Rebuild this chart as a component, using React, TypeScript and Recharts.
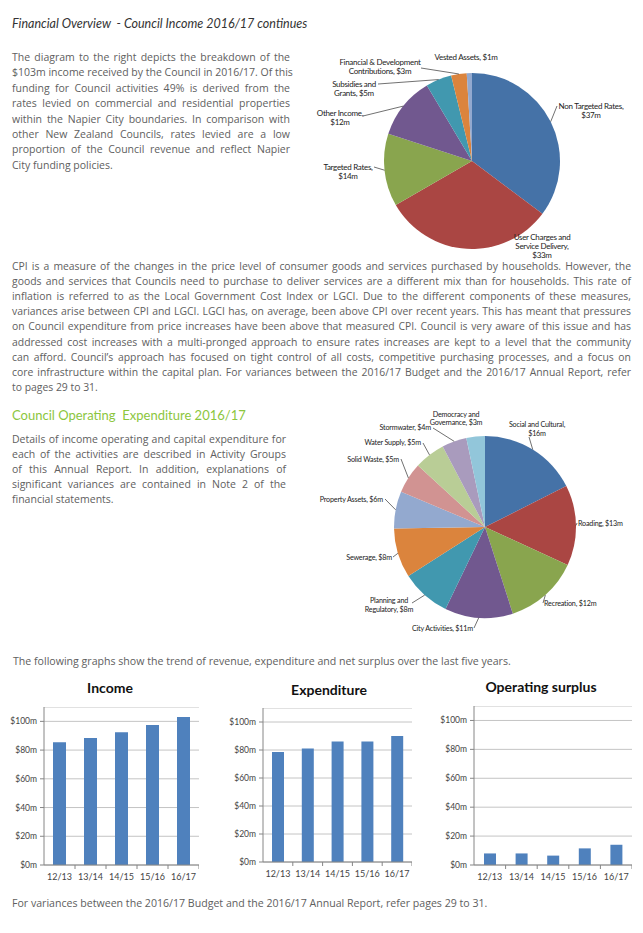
import React from "react";
import { Bar, BarChart, CartesianGrid, Cell, Pie, PieChart, XAxis, YAxis } from "recharts";

// Income 2016/17 pie
const incomeNames = [
  "Non Targeted Rates",
  "User Charges and Service Delivery",
  "Targeted Rates",
  "Other Income",
  "Subsidies and Grants",
  "Financial & Development Contributions",
  "Vested Assets",
];
const incomeValues = [37, 33, 14, 12, 5, 3, 1];
const incomeColors = ["#4572A7", "#AA4643", "#89A54E", "#71588F", "#4198AF", "#DB843D", "#93A9CF"];
const incomeLabels = [
  ["Non Targeted Rates,", "$37m"],
  ["User Charges and", "Service Delivery,", "$33m"],
  ["Targeted Rates,", "$14m"],
  ["Other Income,", "$12m"],
  ["Subsidies and", "Grants, $5m"],
  ["Financial & Development", "Contributions, $3m"],
  ["Vested Assets, $1m"],
];

// Operating expenditure 2016/17 pie
const expenseNames = [
  "Social and Cultural",
  "Roading",
  "Recreation",
  "City Activities",
  "Planning and Regulatory",
  "Sewerage",
  "Property Assets",
  "Solid Waste",
  "Water Supply",
  "Stormwater",
  "Democracy and Governance",
];
const expenseValues = [16, 13, 12, 11, 8, 8, 6, 5, 5, 4, 3];
const expenseColors = [
  "#4572A7", "#AA4643", "#89A54E", "#71588F", "#4198AF", "#DB843D",
  "#93A9CF", "#D19392", "#B9CD96", "#A99BBD", "#92C6DA",
];
const expenseLabels = [
  ["Social and Cultural,", "$16m"],
  ["Roading, $13m"],
  ["Recreation, $12m"],
  ["City Activities, $11m"],
  ["Planning and", "Regulatory, $8m"],
  ["Sewerage,  $8m"],
  ["Property Assets, $6m"],
  ["Solid Waste, $5m"],
  ["Water Supply, $5m"],
  ["Stormwater,  $4m"],
  ["Democracy and", "Governance, $3m"],
];

// five year trend
const years = ["12/13", "13/14", "14/15", "15/16", "16/17"];
const incomeTrend = [85.5, 88.5, 92.5, 97.5, 103];
const expenditureTrend = [78.5, 81, 86, 86, 90];
const surplusTrend = [8, 8, 6.5, 11.5, 14];
const moneyTicks = [0, 20, 40, 60, 80, 100];

const para1 = [
  "The diagram to the right depicts the breakdown of the",
  "$103m income received by the Council in 2016/17.  Of this",
  "funding for Council activities 49% is derived from the",
  "rates levied on commercial and residential properties",
  "within the Napier City boundaries.  In comparison with",
  "other New Zealand Councils, rates levied are a low",
  "proportion of the Council revenue and reflect Napier",
  "City funding policies.",
];
const cpiPara = [
  "CPI is a measure of the changes in the price level of consumer goods and services purchased by households. However, the",
  "goods and services that Councils need to purchase to deliver services are a different mix than for households.  This rate of",
  "inflation is referred to as the Local Government Cost Index or LGCI.  Due to the different components of these measures,",
  "variances arise between CPI and LGCI.  LGCI has, on average, been above CPI over recent years.  This has meant that pressures",
  "on Council expenditure from price increases have been above that measured CPI.  Council is very aware of this issue and has",
  "addressed cost increases with a multi-pronged approach to ensure rates increases are kept to a level that the community",
  "can afford.  Council\u2019s approach has focused on tight control of all costs, competitive purchasing processes, and a focus on",
  "core infrastructure within the capital plan.  For variances between the 2016/17 Budget and the 2016/17 Annual Report, refer",
  "to pages 29 to 31.",
];
const para2 = [
  "Details of income operating and capital expenditure for",
  "each of the activities are described in Activity Groups",
  "of this Annual Report.  In addition, explanations of",
  "significant variances are contained in Note 2 of the",
  "financial statements.",
];

// label placement for the pies (chart coords): text x, first baseline, anchor, leader start
type Spot = { x: number; y: number; anchor: "start" | "middle" | "end"; ax?: number; ay?: number };
const incomeSpots: Spot[] = [
  { x: 591, y: 69, anchor: "middle", ax: 557, ay: 66 },
  { x: 542, y: 200, anchor: "middle" },
  { x: 348, y: 130, anchor: "middle", ax: 374, ay: 127 },
  { x: 340, y: 76, anchor: "middle", ax: 363, ay: 76 },
  { x: 354, y: 47, anchor: "middle", ax: 378, ay: 44 },
  { x: 380, y: 25, anchor: "middle", ax: 421, ay: 28 },
  { x: 466, y: 20, anchor: "middle" },
];
const expenseSpots: Spot[] = [
  { x: 537, y: 27, anchor: "middle", ax: 529, ay: 37 },
  { x: 578, y: 125.5, anchor: "start", ax: 577, ay: 123 },
  { x: 544, y: 205.5, anchor: "start", ax: 543, ay: 203 },
  { x: 473, y: 230.5, anchor: "end", ax: 474, ay: 228 },
  { x: 389, y: 203, anchor: "middle", ax: 412, ay: 203 },
  { x: 392, y: 159.5, anchor: "end", ax: 393, ay: 157 },
  { x: 383, y: 101.5, anchor: "end", ax: 385, ay: 99 },
  { x: 399, y: 61.5, anchor: "end", ax: 401, ay: 59 },
  { x: 421, y: 44.5, anchor: "end", ax: 423, ay: 43 },
  { x: 431, y: 29.5, anchor: "end", ax: 433, ay: 28 },
  { x: 456, y: 16.5, anchor: "middle" },
];

const textFont = "'Open Sans', sans-serif";
const textColor = "#606060";

const Para = ({ lines, left, width, top, step, size = 10.5 }: any) => (
  <>
    {lines.map((t: string, i: number) => {
      const last = i === lines.length - 1;
      return (
        <div
          key={i}
          style={{
            position: "absolute",
            left,
            top: top + i * step - 7,
            width,
            height: 14,
            lineHeight: "14px",
            whiteSpace: "nowrap",
            textAlign: last ? "left" : "justify",
            textAlignLast: last ? "left" : "justify",
            fontFamily: textFont,
            fontSize: size,
            color: textColor,
          }}
        >
          {t}
        </div>
      );
    })}
  </>
);

const makeLabel = (lines: string[][], spots: Spot[], fontSize: number, lh: number, spacing: number) =>
  (props: any) => {
    const { cx, cy, midAngle, outerRadius, index } = props;
    const s = spots[index];
    const rad = Math.PI / 180;
    const ex = cx + outerRadius * Math.cos(-midAngle * rad);
    const ey = cy + outerRadius * Math.sin(-midAngle * rad);
    return (
      <g>
        {s.ax !== undefined && (
          <line x1={s.ax} y1={s.ay} x2={ex} y2={ey} stroke="#333" strokeWidth={0.7} />
        )}
        <text
          x={s.x}
          y={s.y}
          textAnchor={s.anchor}
          fontSize={fontSize}
          fontFamily="Lato, sans-serif"
          letterSpacing={spacing}
          fill="#222"
        >
          {lines[index].map((l, i) => (
            <tspan key={i} x={s.x} dy={i === 0 ? 0 : lh}>
              {l}
            </tspan>
          ))}
        </text>
      </g>
    );
  };

const Y_W = 44;

const YearTick = ({ x, y, payload, band }: any) => (
  <g>
    <line x1={x + band / 2} y1={y} x2={x + band / 2} y2={y + 4} stroke="#868686" />
    <text x={x} y={y + 15} textAnchor="middle" fontSize={9} fontFamily="Lato, sans-serif" fill="#444">
      {payload.value}
    </text>
  </g>
);

const TrendChart = ({ title, values, left, top, width, plotHeight, barSize, titleX, titleY }: any) => {
  const data = years.map((year, i) => ({ year, value: values[i] }));
  const band = (width - Y_W) / years.length;
  return (
    <>
      <div
        style={{
          position: "absolute",
          left: titleX - 90,
          width: 180,
          top: titleY - 10,
          height: 20,
          lineHeight: "20px",
          textAlign: "center",
          fontFamily: "Lato, sans-serif",
          fontWeight: 700,
          fontSize: 14,
          color: "#111",
        }}
      >
        {title}
      </div>
      <div style={{ position: "absolute", left, top }}>
        <BarChart
          width={width}
          height={plotHeight + 30}
          data={data}
          margin={{ top: 0, right: 0, left: 0, bottom: 0 }}
        >
          <CartesianGrid vertical={false} stroke="#C4C4C4" />
          <XAxis
            dataKey="year"
            height={30}
            interval={0}
            tickSize={0}
            tickMargin={0}
            tickLine={false}
            axisLine={{ stroke: "#868686" }}
            tick={(p: any) => <YearTick {...p} band={band} />}
          />
          <YAxis
            width={Y_W}
            domain={[0, 110]}
            ticks={moneyTicks}
            tickFormatter={(v: number) => `$${v}m`}
            tickSize={4}
            tickMargin={3}
            axisLine={{ stroke: "#868686" }}
            tickLine={{ stroke: "#868686" }}
            tick={{ fontSize: 8.5, fill: "#444", fontFamily: "Lato, sans-serif" }}
          />
          <Bar dataKey="value" fill="#4F81BD" barSize={barSize} isAnimationActive={false} />
        </BarChart>
      </div>
    </>
  );
};

export default function App() {
  const incomeData = incomeNames.map((name, i) => ({ name, value: incomeValues[i] }));
  const expenseData = expenseNames.map((name, i) => ({ name, value: expenseValues[i] }));
  return (
    <div
      style={{
        position: "absolute",
        left: 0,
        top: 0,
        width: 643,
        height: 933,
        background: "#fff",
        overflow: "hidden",
      }}
    >
      <div
        style={{
          position: "absolute",
          left: 12,
          top: 16,
          fontFamily: "Lato, sans-serif",
          fontStyle: "italic",
          fontSize: 12.5,
          color: "#333",
          whiteSpace: "nowrap",
        }}
      >
        Financial Overview&nbsp; - Council Income 2016/17 continues
      </div>

      <Para lines={para1} left={12} width={278} top={57} step={15.4} />
      <Para lines={cpiPara} left={12} width={619} top={266} step={15.1} size={10.4} />

      <div
        style={{
          position: "absolute",
          left: 12,
          top: 407,
          fontFamily: "Lato, sans-serif",
          fontSize: 13,
          color: "#8CC63E",
          whiteSpace: "nowrap",
        }}
      >
        Council Operating&nbsp; Expenditure 2016/17
      </div>
      <Para lines={para2} left={12} width={274} top={439} step={15} />

      <Para
        lines={["The following graphs show the trend of revenue, expenditure and net surplus over the last five years."]}
        left={13}
        width={600}
        top={661}
        step={15}
        size={10.6}
      />
      <Para
        lines={["For variances between the 2016/17 Budget and the 2016/17 Annual Report, refer pages 29 to 31."]}
        left={12}
        width={600}
        top={903}
        step={15}
        size={10.6}
      />

      <div style={{ position: "absolute", left: 0, top: 40 }}>
        <PieChart width={643} height={230}>
          <Pie
            data={incomeData}
            dataKey="value"
            cx={467}
            cy={116}
            outerRadius={88}
            startAngle={90}
            endAngle={-270}
            stroke="none"
            labelLine={false}
            label={makeLabel(incomeLabels, incomeSpots, 8, 9, -0.3)}
            isAnimationActive={false}
          >
            {incomeColors.map((c, i) => (
              <Cell key={i} fill={c} />
            ))}
          </Pie>
        </PieChart>
      </div>

      <div style={{ position: "absolute", left: 0, top: 400 }}>
        <PieChart width={643} height={240}>
          <Pie
            data={expenseData}
            dataKey="value"
            cx={480}
            cy={122}
            outerRadius={91}
            startAngle={90}
            endAngle={-270}
            stroke="none"
            labelLine={false}
            label={makeLabel(expenseLabels, expenseSpots, 7.2, 8.5, -0.2)}
            isAnimationActive={false}
          >
            {expenseColors.map((c, i) => (
              <Cell key={i} fill={c} />
            ))}
          </Pie>
        </PieChart>
      </div>

      <TrendChart title="Income" values={incomeTrend} left={0} top={707} width={199} plotHeight={158} barSize={13} titleX={110} titleY={688} />
      <TrendChart title="Expenditure" values={expenditureTrend} left={219} top={708} width={193} plotHeight={154} barSize={12} titleX={329} titleY={690} />
      <TrendChart title="Operating surplus" values={surplusTrend} left={430} top={706} width={202} plotHeight={159} barSize={12} titleX={541} titleY={687} />
    </div>
  );
}
